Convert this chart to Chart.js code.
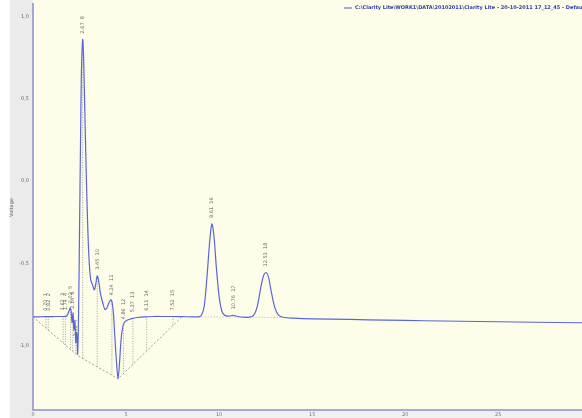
<!DOCTYPE html>
<html><head><meta charset="utf-8">
<script src="https://cdn.jsdelivr.net/npm/chart.js@4.4.1/dist/chart.umd.min.js"></script>
<style>html,body{margin:0;padding:0;background:#fff}#wrap{width:582px;height:418px}</style>
</head><body><div id="wrap"><canvas id="c" width="582" height="418"></canvas></div>
<script>
// Signal: retention time (min) and voltage
const times = [0.00,0.30,0.60,0.90,1.20,1.50,1.80,1.90,2.00,2.05,2.10,2.15,2.20,2.25,2.30,2.35,2.40,2.45,2.50,2.55,2.60,2.67,2.72,2.78,2.85,2.92,3.00,3.10,3.20,3.30,3.38,3.45,3.52,3.62,3.75,3.87,3.97,4.08,4.18,4.24,4.32,4.40,4.50,4.57,4.64,4.72,4.80,4.90,5.05,5.30,5.60,6.00,6.50,7.00,7.52,8.00,8.50,8.90,9.05,9.20,9.35,9.50,9.61,9.72,9.85,10.00,10.15,10.30,10.50,10.76,11.00,11.30,11.60,11.85,12.05,12.25,12.40,12.53,12.65,12.80,13.00,13.20,13.50,14.00,15.00,17.00,19.00,21.00,23.00,25.00,27.00,29.50];
const voltage = [-0.824,-0.824,-0.823,-0.823,-0.822,-0.822,-0.820,-0.800,-0.770,-0.790,-0.860,-0.800,-0.900,-0.850,-0.980,-0.920,-1.050,-0.800,-0.300,0.200,0.650,0.860,0.750,0.450,0.100,-0.200,-0.450,-0.600,-0.630,-0.660,-0.620,-0.575,-0.600,-0.680,-0.740,-0.780,-0.770,-0.740,-0.720,-0.730,-0.800,-0.950,-1.120,-1.200,-1.120,-0.980,-0.900,-0.860,-0.845,-0.835,-0.828,-0.824,-0.822,-0.822,-0.822,-0.823,-0.824,-0.824,-0.815,-0.760,-0.580,-0.360,-0.260,-0.330,-0.520,-0.700,-0.790,-0.815,-0.820,-0.815,-0.822,-0.826,-0.826,-0.815,-0.760,-0.640,-0.570,-0.555,-0.580,-0.670,-0.770,-0.815,-0.828,-0.832,-0.836,-0.840,-0.844,-0.848,-0.851,-0.854,-0.857,-0.860];
// Integration baseline (dashed)
const baseTimes = [0.00,2.40,4.57,8.00];
const baseValues = [-0.824,-1.060,-1.200,-0.824];
const baseTimes2 = [8.90,13.70];
const baseValues2 = [-0.824,-0.829];
// Peak labels
const peakTimes = [0.70,0.82,1.62,1.74,2.02,2.14,2.30,2.67,3.45,4.24,4.86,5.37,6.11,7.52,9.61,10.76,12.53];
const peakNames = ['1','2','3','4','5','6','7','8','10','11','12','13','14','15','16','17','18'];
const peakTexts = ['0.70','0.82','1.62','1.74','2.02','2.14','2.30','2.67','3.45','4.24','4.86','5.37','6.11','7.52','9.61','10.76','12.53'];
const yTicks = [-1.0,-0.5,0.0,0.5,1.0];
const xTicks = [0,5,10,15,20,25];
const legendText = 'C:\\Clarity Lite\\WORK1\\DATA\\20102011\\Clarity Lite - 20-10-2011 17_12_45 - Default';

function interp(arrX, arrY, t){
  for(let i=0;i<arrX.length-1;i++){
    if(t>=arrX[i] && t<=arrX[i+1]){
      const f=(t-arrX[i])/(arrX[i+1]-arrX[i]);
      return arrY[i]+f*(arrY[i+1]-arrY[i]);
    }
  }
  return arrY[arrY.length-1];
}
const signalData = times.map((t,i)=>({x:t,y:voltage[i]}));
const baseData = baseTimes.map((t,i)=>({x:t,y:baseValues[i]}));
const baseData2 = baseTimes2.map((t,i)=>({x:t,y:baseValues2[i]}));
const dropData = [];
peakTimes.forEach(t=>{
  if(t<=baseTimes[baseTimes.length-1]){
    dropData.push({x:t,y:interp(times,voltage,t)});
    dropData.push({x:t,y:interp(baseTimes,baseValues,t)});
    dropData.push({x:t,y:null});
  }
});

const bgPlugin = {
  id:'bg',
  beforeDraw(chart){
    const {ctx, chartArea:a} = chart;
    ctx.save();
    ctx.fillStyle='#fdfde9';
    ctx.fillRect(a.left,0,chart.width-a.left,a.bottom);
    ctx.fillStyle='#ebebeb';
    ctx.fillRect(10,0,a.left-10,chart.height);
    ctx.fillStyle='#f1f1f1';
    ctx.fillRect(a.left,a.bottom,chart.width-a.left,chart.height-a.bottom);
    ctx.restore();
  },
  afterDraw(chart){
    const {ctx, chartArea:a, scales} = chart;
    const xs=scales.x, ys=scales.y;
    ctx.save();
    ctx.strokeStyle='#8c8cd8'; ctx.lineWidth=1.5;
    ctx.beginPath(); ctx.moveTo(a.left,a.top-2); ctx.lineTo(a.left,a.bottom); ctx.lineTo(chart.width,a.bottom); ctx.stroke();
    ctx.fillStyle='#666'; ctx.font='5px "DejaVu Sans"';
    ctx.textBaseline='middle'; ctx.textAlign='left';
    peakTimes.forEach((t,i)=>{
      const px=xs.getPixelForValue(t);
      const py=ys.getPixelForValue(interp(times,voltage,t))-6;
      ctx.save(); ctx.translate(px,py); ctx.rotate(-Math.PI/2);
      ctx.fillText(peakTexts[i]+'  '+peakNames[i],0,0);
      ctx.restore();
    });
    ctx.font='bold 5px "DejaVu Sans"'; ctx.fillStyle='#3040a8';
    ctx.textBaseline='middle';
    ctx.strokeStyle='#4a5ad0'; ctx.lineWidth=1;
    ctx.beginPath(); ctx.moveTo(344,8); ctx.lineTo(352,8); ctx.stroke();
    ctx.fillText(legendText,355,8);
    ctx.restore();
  }
};

new Chart(document.getElementById('c'),{
  type:'line',
  data:{datasets:[
    {data:signalData,borderColor:'#5a66d8',borderWidth:1.2,pointRadius:0,tension:0.3,fill:false,order:1},
    {data:baseData,borderColor:'#777',borderWidth:0.7,borderDash:[2,2],pointRadius:0,fill:false,order:2},
    {data:baseData2,borderColor:'#999',borderWidth:0.7,borderDash:[1,2],pointRadius:0,fill:false,order:2},
    {data:dropData,borderColor:'#777',borderWidth:0.7,borderDash:[1,1.5],pointRadius:0,fill:false,spanGaps:false,order:3}
  ]},
  options:{
    responsive:false,animation:false,
    layout:{padding:{top:5,right:0,left:9,bottom:0}},
    plugins:{legend:{display:false},tooltip:{enabled:false}},
    scales:{
      x:{type:'linear',min:0,max:29.5,
        grid:{display:false,drawTicks:true,tickLength:2,color:'#8c8cd8'},
        border:{display:false},
        afterBuildTicks(s){s.ticks=xTicks.map(v=>({value:v}));},
        ticks:{font:{size:5,family:'DejaVu Sans'},color:'#777',padding:0,maxRotation:0,autoSkip:false},
        afterFit(s){s.height=8;}
      },
      y:{type:'linear',min:-1.39,max:1.07,
        grid:{display:false,drawTicks:true,tickLength:3,color:'#8c8cd8'},
        border:{display:false},
        afterBuildTicks(s){s.ticks=yTicks.map(v=>({value:v}));},
        ticks:{font:{size:5,family:'DejaVu Sans'},color:'#666',padding:1,
          callback:(v)=>Number(v).toFixed(1).replace('.',',')},
        title:{display:true,text:'Voltage',font:{size:5,family:'DejaVu Sans'},color:'#666',padding:0},
        afterFit(s){s.width=24;}
      }
    }
  },
  plugins:[bgPlugin]
});
</script></body></html>
